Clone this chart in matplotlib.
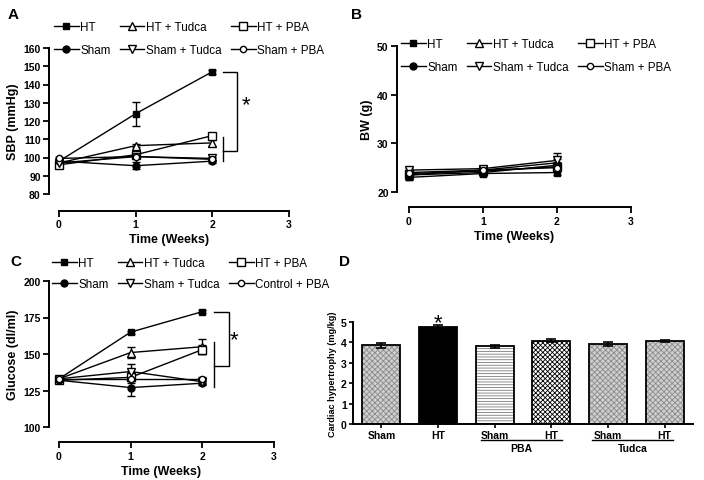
import numpy as np
import matplotlib.pyplot as plt
from matplotlib.lines import Line2D

plt.rcParams['font.family'] = ['Liberation Sans', 'DejaVu Sans']
plt.rcParams['hatch.linewidth'] = 0.6

weeks = [0, 1, 2]
groups = ['HT', 'HT + Tudca', 'HT + PBA', 'Sham', 'Sham + Tudca', 'Sham + PBA']
groups_c = ['HT', 'HT + Tudca', 'HT + PBA', 'Sham', 'Sham + Tudca', 'Control + PBA']
markers = ['s', '^', 's', 'o', 'v', 'o']
filled = [True, False, False, True, False, False]
msizes = [5, 5.5, 5.5, 5, 5.5, 4.5]

# SBP (mmHg)
sbp = [[98, 124, 147], [97, 106.5, 108], [96, 101.5, 112],
       [98, 95.5, 98], [97, 100.5, 99.5], [99.5, 100.5, 99]]
sbp_err = [[1, 6.5, 1], [1, 1, 1.5], [1, 1, 1.5],
           [1, 2, 0.8], [1, 1, 1], [0.8, 1, 1]]
# BW (g)
bw = [[23.0, 23.8, 24.0], [23.5, 24.5, 26.0], [23.8, 24.3, 25.2],
      [23.5, 24.0, 25.5], [24.5, 24.8, 26.5], [24.0, 24.5, 25.0]]
bw_err = [[0.5, 0.5, 0.6], [0.5, 0.6, 0.7], [0.5, 0.5, 0.6],
          [0.5, 0.5, 0.6], [0.5, 0.6, 1.5], [0.5, 0.5, 0.6]]
# Glucose (dl/ml)
glu = [[133, 165, 179], [133, 151, 155], [132, 134, 153],
       [132, 127, 130], [133, 138, 131], [133, 133, 133]]
glu_err = [[1.5, 1, 1], [1.5, 4, 5], [1.5, 4, 3],
           [1.5, 6, 1.5], [1.5, 5, 1.5], [1.5, 1.5, 1.5]]

# Cardiac hypertrophy
bar_labels = ['Sham', 'HT', 'Sham', 'HT', 'Sham', 'HT']
bar_vals = [3.85, 4.75, 3.8, 4.08, 3.92, 4.07]
bar_err = [0.12, 0.1, 0.08, 0.07, 0.1, 0.05]

fig = plt.figure(figsize=(7.04, 4.81), dpi=100)
W, H = 704, 481


def px_axes(l, t, r, b):
    return fig.add_axes([l / W, 1 - b / H, (r - l) / W, (b - t) / H])


def style(ax, offset):
    for s in ['top', 'right']:
        ax.spines[s].set_visible(False)
    ax.spines['left'].set_linewidth(1.4)
    ax.spines['bottom'].set_linewidth(1.4)
    ax.spines['bottom'].set_position(('outward', offset))
    ax.tick_params(width=1.3, length=4, labelsize=7.5, pad=2)
    for lab in ax.get_xticklabels() + ax.get_yticklabels():
        lab.set_fontweight('bold')


def line_panel(ax, data, err, labels, ylim, yticks, ylabel, offset, leg_xy, lsp):
    handles = []
    for i in range(6):
        mfc = 'black' if filled[i] else 'white'
        ax.errorbar(weeks, data[i], yerr=err[i], color='black', lw=1,
                    marker=markers[i], ms=msizes[i], mfc=mfc, mec='black',
                    mew=1, capsize=3, elinewidth=1, capthick=1, clip_on=False)
        handles.append(Line2D([], [], color='black', lw=1, marker=markers[i],
                              ms=msizes[i], mfc=mfc, mec='black', mew=1))
    ax.set_ylim(*ylim)
    ax.set_yticks(yticks)
    ax.set_xticks([0, 1, 2, 3])
    ax.spines['bottom'].set_bounds(0, 3)
    ax.spines['left'].set_bounds(*ylim)
    ax.set_ylabel(ylabel, fontsize=9, fontweight='bold', labelpad=3)
    ax.set_xlabel('Time (Weeks)', fontsize=9, fontweight='bold', labelpad=3)
    style(ax, offset)
    order = [0, 3, 1, 4, 2, 5]
    ax.legend([handles[k] for k in order], [labels[k] for k in order],
              ncol=3, frameon=False, fontsize=8.4, loc='upper left',
              bbox_to_anchor=(leg_xy[0] / W, 1 - leg_xy[1] / H),
              bbox_transform=fig.transFigure, handlelength=2.1,
              handletextpad=0.15, columnspacing=0.8, labelspacing=lsp,
              borderaxespad=0, borderpad=0)


# Panel A
axA = px_axes(49, 49, 289, 195)
axA.set_xlim(-10 / 76.7, 3)
line_panel(axA, sbp, sbp_err, groups, (80, 160), range(80, 161, 10),
           'SBP (mmHg)', 12, (54, 22), 0.95)
axA.plot([2.14, 2.32, 2.32, 2.14], [147, 147, 103.6, 103.6], color='black',
         lw=1, clip_on=False)
axA.plot([2.14, 2.14], [98.3, 111.2], color='black', lw=1, clip_on=False)
axA.text(2.44, 129, '*', fontsize=16, ha='center', va='center')

# Panel B
axB = px_axes(397, 47, 631, 193)
axB.set_xlim(-12 / 74, 3)
line_panel(axB, bw, bw_err, groups, (20, 50), [20, 30, 40, 50],
           'BW (g)', 11, (401, 39), 0.95)

# Panel C
axC = px_axes(49, 282, 274, 428)
axC.set_xlim(-10 / 71.7, 3)
line_panel(axC, glu, glu_err, groups_c, (100, 200), [100, 125, 150, 175, 200],
           'Glucose (dl/ml)', 11, (52, 258), 0.8)
axC.plot([2.16, 2.37, 2.37, 2.16], [179, 179, 142, 142], color='black',
         lw=1, clip_on=False)
axC.plot([2.16, 2.16], [127.4, 158], color='black', lw=1, clip_on=False)
axC.text(2.44, 160, '*', fontsize=16, ha='center', va='center')

# Panel D
axD = px_axes(353, 323, 693, 425)
x = np.arange(len(bar_vals))
faces = ['#cfcfcf', 'black', 'white', 'white', '#cfcfcf', '#cfcfcf']
hatches = ['xxxxxx', '', '------', 'xxxxxxx', 'xxxxxx', 'xxxxxx']
hcols = ['#8a8a8a', 'black', '#7a7a7a', 'black', '#8a8a8a', '#8a8a8a']
for i in range(len(x)):
    axD.bar(x[i], bar_vals[i], 0.67, color=faces[i], hatch=hatches[i],
            edgecolor=hcols[i], lw=0, zorder=2)
axD.bar(x, bar_vals, 0.67, fill=False, edgecolor='black', lw=1.3, zorder=3,
        yerr=bar_err, capsize=3.5,
        error_kw=dict(elinewidth=1.2, capthick=1.2, ecolor='black'))
axD.set_xlim(-0.5, 5.5)
axD.set_ylim(0, 5)
axD.set_yticks(range(6))
axD.set_xticks(x)
axD.set_xticklabels(bar_labels)
for s in ['top', 'right']:
    axD.spines[s].set_visible(False)
axD.spines['left'].set_linewidth(1.4)
axD.spines['bottom'].set_linewidth(1.4)
axD.tick_params(width=1.2, length=3, labelsize=7.5, pad=1.5)
for lab in axD.get_xticklabels() + axD.get_yticklabels():
    lab.set_fontweight('bold')
axD.set_ylabel('Cardiac hypertrophy (mg/kg)', fontsize=6.6, fontweight='bold',
               labelpad=3)
axD.text(1, 4.95, '*', fontsize=16, ha='center', va='center')
for x0, x1, name in [(1.75, 3.19, 'PBA'), (3.72, 5.15, 'Tudca')]:
    axD.plot([x0, x1], [-0.8, -0.8], color='black', lw=1, clip_on=False)
    axD.text((x0 + x1) / 2, -0.92, name, fontsize=7.5, fontweight='bold',
             ha='center', va='top')

# panel letters
for letter, (lx, ly) in {'A': (13, 15), 'B': (357, 15), 'C': (16, 262),
                         'D': (345, 262)}.items():
    fig.text(lx / W, 1 - ly / H, letter, fontsize=11, fontweight='bold',
             ha='center', va='center')

fig.savefig('out.png', dpi=100)
